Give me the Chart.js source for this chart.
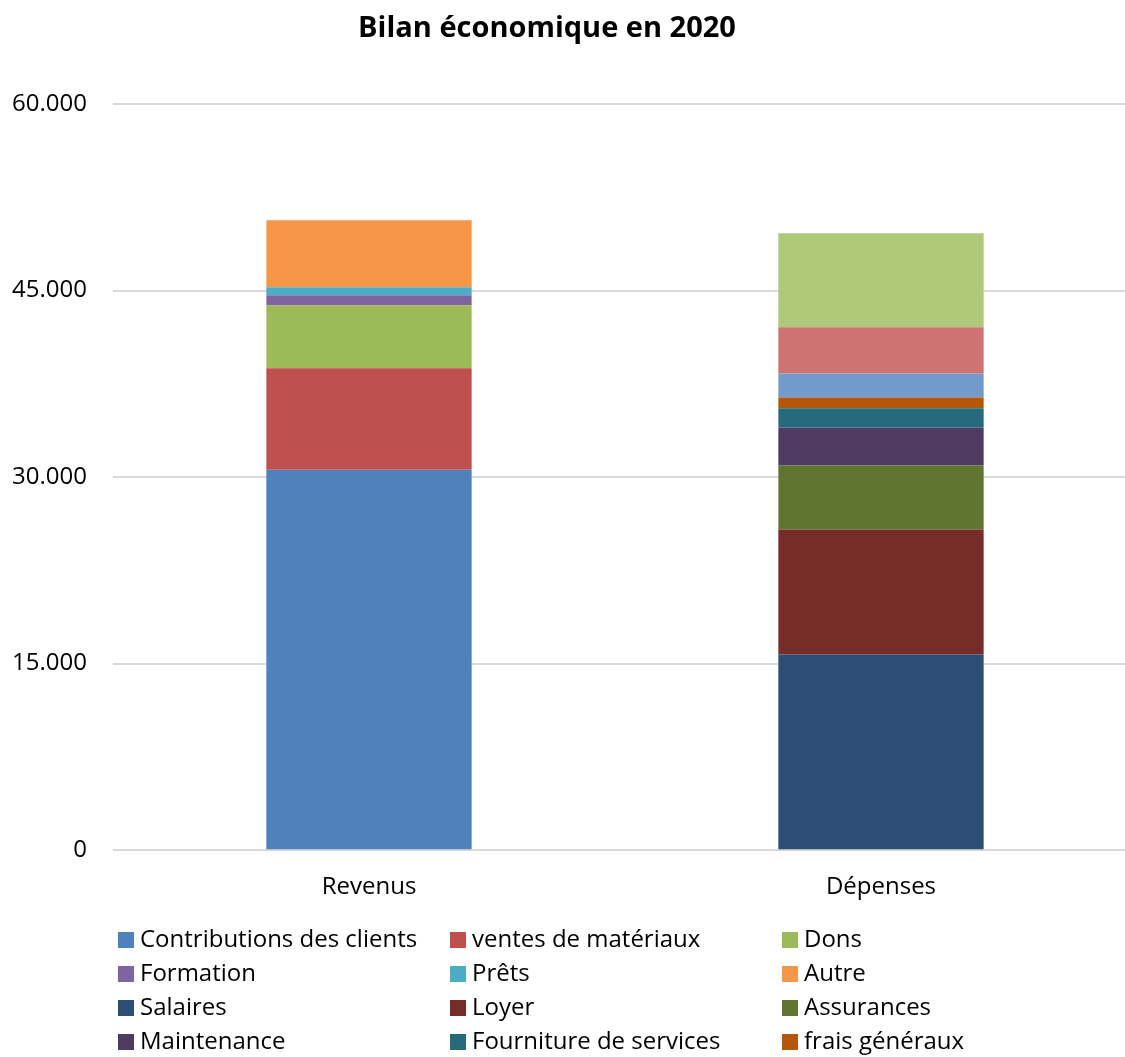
<!DOCTYPE html>
<html>
<head>
<meta charset="utf-8">
<script src="https://cdn.jsdelivr.net/npm/chart.js@4/dist/chart.umd.min.js"></script>
<style>
  html, body { margin: 0; padding: 0; background: #fff; overflow: hidden; }
  #wrap { position: relative; width: 1137px; height: 1057px; }
  #title { position: absolute; top: 6px; left: 297px; width: 500px; text-align: center;
           font: bold 29px "Open Sans", sans-serif; color: #000; }
  #legend { position: absolute; left: 118px; top: 921px; width: 1000px;
            display: grid; grid-template-columns: 332px 332px 332px;
            font: 24px "Open Sans", sans-serif; color: #000; }
  #legend div { height: 34px; line-height: 34px; white-space: nowrap; }
  #legend span { display: inline-block; width: 16px; height: 16px; margin-right: 6px; vertical-align: -1px; }
</style>
</head>
<body>
<div id="wrap">
  <canvas id="bilanChart" width="1137" height="1057"></canvas>
  <div id="title">Bilan économique en 2020</div>
  <div id="legend"></div>
</div>
<script>
const categories = ["Revenus", "Dépenses"];
const yTicks = [0, 15000, 30000, 45000, 60000];

// revenus
const contributions = [30600, null];
const ventes = [8160, null];
const dons = [5050, null];
const formation = [810, null];
const prets = [640, null];
const autre = [5400, null];
// dépenses
const salaires = [null, 15730];
const loyer = [null, 10040];
const assurances = [null, 5160];
const maintenance = [null, 3060];
const fourniture = [null, 1550];
const fraisGeneraux = [null, 860];
const marketing = [null, 1930];
const impots = [null, 3710];
const autresDepenses = [null, 7570];

const series = [
    ["Contributions des clients", contributions, "#4F81BD"],
    ["ventes de matériaux", ventes, "#C0504D"],
    ["Dons", dons, "#9BBB59"],
    ["Formation", formation, "#8064A2"],
    ["Prêts", prets, "#4BACC6"],
    ["Autre", autre, "#F79646"],
    ["Salaires", salaires, "#2C4D75"],
    ["Loyer", loyer, "#772C2A"],
    ["Assurances", assurances, "#5F7530"],
    ["Maintenance", maintenance, "#4D3B62"],
    ["Fourniture de services", fourniture, "#276A7C"],
    ["frais généraux", fraisGeneraux, "#B65708"],
    ["Marketing", marketing, "#729ACA"],
    ["Impôts", impots, "#CD7371"],
    ["Autres dépenses", autresDepenses, "#AFC97A"],
];

const ctx = document.getElementById("bilanChart").getContext("2d");
const font = { family: "'Open Sans', sans-serif", size: 24 };

const myChart = new Chart(ctx, {
    type: "bar",
    data: {
        labels: categories,
        datasets: series.map(s => ({
            label: s[0],
            data: s[1],
            backgroundColor: s[2],
            borderWidth: 0,
            barPercentage: 0.401,
            categoryPercentage: 1,
        })),
    },
    options: {
        responsive: false,
        animation: false,
        layout: { padding: { top: 104, left: 0, right: 0, bottom: 140 } },
        plugins: {
            legend: { display: false },
            title: { display: false },
            tooltip: { enabled: false },
        },
        scales: {
            x: {
                stacked: true,
                grid: { display: false },
                border: { display: false },
                ticks: { font: font, color: "#000", padding: 15 },
            },
            y: {
                stacked: true,
                min: 0,
                max: 60000,
                afterBuildTicks: axis => { axis.ticks = yTicks.map(v => ({ value: v })); },
                afterFit: axis => { axis.width = 113; },
                grid: { color: "#d9d9d9", lineWidth: 2, drawTicks: false },
                border: { display: false },
                ticks: {
                    font: font,
                    color: "#000",
                    padding: 26,
                    callback: v => v.toLocaleString("de-DE"),
                },
            },
        },
    },
});

// legend: Excel only shows the first 12 entries
const legendEl = document.getElementById("legend");
myChart.data.datasets.slice(0, 12).forEach(ds => {
    const item = document.createElement("div");
    const box = document.createElement("span");
    box.style.background = ds.backgroundColor;
    item.appendChild(box);
    item.appendChild(document.createTextNode(ds.label));
    legendEl.appendChild(item);
});
</script>
</body>
</html>
